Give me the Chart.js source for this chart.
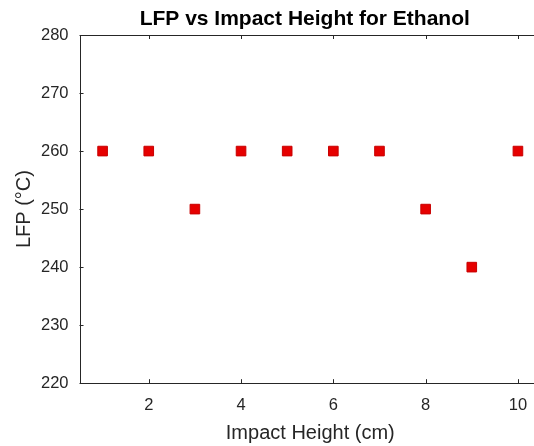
<!DOCTYPE html>
<html>
<head>
<meta charset="utf-8">
<script src="https://cdn.jsdelivr.net/npm/chart.js@4/dist/chart.umd.min.js"></script>
<style>
  html, body { margin: 0; padding: 0; background: #ffffff; overflow: hidden; }
  #wrap { width: 534px; height: 446px; position: relative; overflow: hidden; }
  #c { position: absolute; left: 0; top: 0; }
</style>
</head>
<body>
<div id="wrap"><canvas id="c" width="541" height="446"></canvas></div>
<script>
const chartTitle = 'LFP vs Impact Height for Ethanol';
const xAxisTitle = 'Impact Height (cm)';
const yAxisTitle = 'LFP (°C)';
const impactHeights = [1, 2, 3, 4, 5, 6, 7, 8, 9, 10];
const lfpValues = [260, 260, 250, 260, 260, 260, 260, 250, 240, 260];
const xTickValues = [2, 4, 6, 8, 10];
const yTickValues = [220, 230, 240, 250, 260, 270, 280];

const axisColor = '#262626';
const fontFamily = '"Liberation Sans", Arial, Helvetica, sans-serif';
const visibleWidth = 534;

const boxAndTicks = {
  id: 'boxAndTicks',
  afterDraw(chart) {
    const {ctx, chartArea: a, scales} = chart;
    ctx.save();
    ctx.strokeStyle = axisColor;
    ctx.lineWidth = 1;
    ctx.beginPath();
    ctx.rect(Math.round(a.left) + 0.5, Math.round(a.top) + 0.5, Math.round(a.right - a.left), Math.round(a.bottom - a.top));
    ctx.stroke();
    const len = 4;
    ctx.beginPath();
    scales.x.ticks.forEach(t => {
      const px = Math.round(scales.x.getPixelForValue(t.value)) + 0.5;
      ctx.moveTo(px, a.bottom); ctx.lineTo(px, a.bottom - len);
      ctx.moveTo(px, a.top); ctx.lineTo(px, a.top + len);
    });
    scales.y.ticks.forEach(t => {
      const py = Math.round(scales.y.getPixelForValue(t.value)) + 0.5;
      ctx.moveTo(a.left, py); ctx.lineTo(a.left + len, py);
      ctx.moveTo(a.right, py); ctx.lineTo(a.right - len, py);
    });
    ctx.stroke();
    // title centred over the visible part of the axes
    ctx.fillStyle = '#000000';
    ctx.font = 'bold 21px ' + fontFamily;
    ctx.textAlign = 'center';
    ctx.textBaseline = 'middle';
    ctx.fillText(chartTitle, (a.left + Math.min(a.right, visibleWidth)) / 2 - 2, 19);
    ctx.restore();
  }
};

new Chart(document.getElementById('c'), {
  type: 'scatter',
  data: {
    datasets: [{
      data: impactHeights.map((x, i) => ({x: x, y: lfpValues[i]})),
      pointStyle: 'rect',
      pointRadius: 6.8,
      pointHoverRadius: 6.8,
      backgroundColor: '#e60000',
      borderColor: '#c80000',
      borderWidth: 1
    }]
  },
  options: {
    responsive: false,
    animation: false,
    layout: { autoPadding: false, padding: { top: 35, right: 0, left: 12, bottom: 0 } },
    plugins: { legend: { display: false }, tooltip: { enabled: false }, title: { display: false } },
    scales: {
      x: {
        type: 'linear',
        min: 0.5,
        max: 10.5,
        afterBuildTicks: s => { s.ticks = xTickValues.map(v => ({value: v})); },
        grid: { display: false, drawTicks: false },
        border: { display: false },
        ticks: { color: axisColor, font: { family: fontFamily, size: 16.5 }, padding: 12, maxRotation: 0 },
        title: { display: true, text: xAxisTitle, color: axisColor, font: { family: fontFamily, size: 20 }, padding: { top: -6, bottom: 1 } }
      },
      y: {
        type: 'linear',
        min: 220,
        max: 280,
        afterBuildTicks: s => { s.ticks = yTickValues.map(v => ({value: v})); },
        grid: { display: false, drawTicks: false },
        border: { display: false },
        ticks: { color: axisColor, font: { family: fontFamily, size: 16.5 }, padding: 11 },
        title: { display: true, text: yAxisTitle, color: axisColor, font: { family: fontFamily, size: 20 }, padding: { top: 0, bottom: -6 } }
      }
    }
  },
  plugins: [boxAndTicks]
});
</script>
</body>
</html>
